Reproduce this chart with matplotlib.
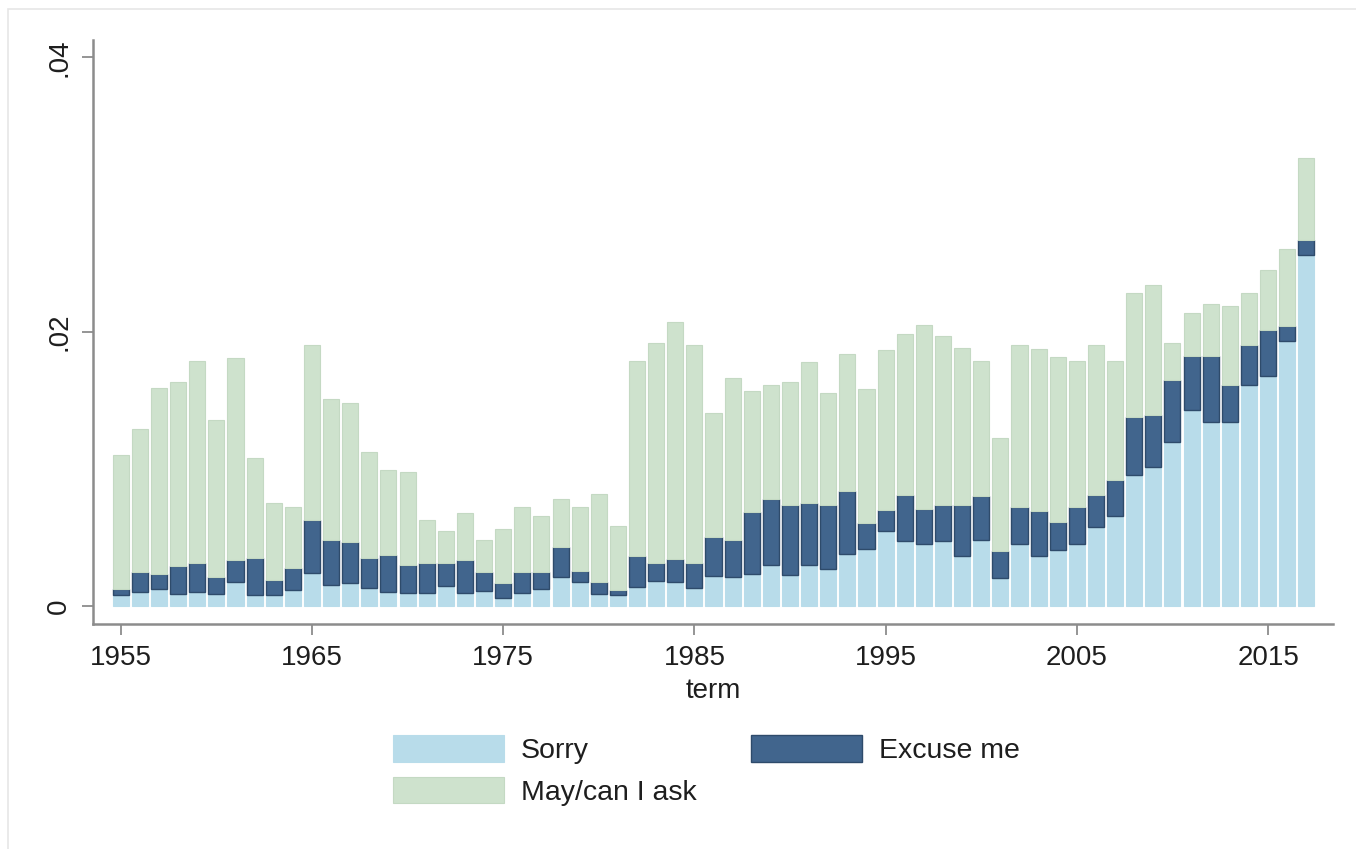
import numpy as np
import matplotlib
matplotlib.use("Agg")
import matplotlib.pyplot as plt
from matplotlib.patches import Rectangle

plt.rcParams['font.family'] = ['Liberation Sans', 'DejaVu Sans']

# Share of utterances per term, in thousandths
years = list(range(1955, 2018))

sorry = [0.80, 1.04, 1.21, 0.87, 1.04, 0.87, 1.77, 0.80, 0.80, 1.17,
         2.43, 1.53, 1.65, 1.29, 1.04, 0.92, 0.92, 1.48, 0.92, 1.09,
         0.56, 0.92, 1.21, 2.09, 1.72, 0.87, 0.80, 1.41, 1.84, 1.77,
         1.29, 2.18, 2.14, 2.31, 2.99, 2.26, 2.99, 2.69, 3.79, 4.15,
         5.46, 4.73, 4.56, 4.73, 3.64, 4.85, 2.01, 4.49, 3.64, 4.08,
         4.49, 5.78, 6.55, 9.54, 10.15, 11.97, 14.30, 13.40, 13.40, 16.10,
         16.80, 19.30, 25.60]

excuse_me = [0.41, 1.46, 1.10, 2.07, 2.07, 1.27, 1.58, 2.67, 1.09, 1.57,
             3.88, 3.28, 2.99, 2.18, 2.67, 2.07, 2.24, 1.68, 2.43, 1.41,
             1.09, 1.58, 1.29, 2.23, 0.83, 0.85, 0.37, 2.25, 1.27, 1.63,
             1.82, 2.82, 2.67, 4.56, 4.78, 5.09, 4.56, 4.71, 4.58, 1.87,
             1.53, 3.35, 2.55, 2.67, 3.71, 3.15, 1.99, 2.76, 3.28, 2.06,
             2.74, 2.30, 2.62, 4.26, 3.81, 4.53, 3.90, 4.80, 2.70, 2.95,
             3.30, 1.10, 1.10]

may_ask = [9.79, 10.40, 13.59, 13.36, 14.79, 11.46, 14.75, 7.33, 5.61, 4.46,
           12.69, 10.29, 10.16, 7.73, 6.19, 6.81, 3.10, 2.30, 3.40, 2.35,
           3.95, 4.73, 4.05, 3.48, 4.68, 6.48, 4.68, 14.24, 16.09, 17.30,
           15.89, 9.10, 11.79, 8.78, 8.33, 8.95, 10.25, 8.10, 9.98, 9.78,
           11.71, 11.77, 13.39, 12.30, 11.45, 9.90, 8.26, 11.75, 11.84, 12.01,
           10.67, 10.92, 8.73, 9.00, 9.44, 2.70, 3.16, 3.80, 5.80, 3.75,
           4.40, 5.60, 6.00]

x = np.array(years)
s = np.array(sorry) / 1000
e = np.array(excuse_me) / 1000
a = np.array(may_ask) / 1000

c_sorry = '#b8dcea'
c_excuse = '#41658d'
c_ask = '#cee2cd'

fig = plt.figure(figsize=(13.56, 8.49), dpi=100)
ax = fig.add_axes([0.0686, 0.265, 0.9145, 0.688])

w = 0.84
ax.bar(x, s, width=w, color=c_sorry, edgecolor=c_sorry, linewidth=0.8, label='Sorry')
ax.bar(x, e, width=w, bottom=s, color=c_excuse, edgecolor='#2e4b6b', linewidth=1.0,
       label='Excuse me')
ax.bar(x, a, width=w, bottom=s + e, color=c_ask, edgecolor='#c4d9c3', linewidth=0.8,
       label='May/can I ask')

ax.set_xlim(1953.55, 2018.4)
ax.set_ylim(-0.00131, 0.04128)

ax.set_xticks([1955, 1965, 1975, 1985, 1995, 2005, 2015])
ax.set_yticks([0, 0.02, 0.04])
ax.set_yticklabels(['0', '.02', '.04'], rotation=90, va='center')

for side in ['top', 'right']:
    ax.spines[side].set_visible(False)
for side in ['left', 'bottom']:
    ax.spines[side].set_color('#8c8c8c')
    ax.spines[side].set_linewidth(1.8)

ax.tick_params(axis='both', colors='#8c8c8c', length=8, width=1.3,
               labelsize=20, labelcolor='#1e1e1e')
ax.tick_params(axis='x', pad=7)
ax.tick_params(axis='y', pad=7)
ax.set_xlabel('term', fontsize=20, color='#1e1e1e', labelpad=5)

# legend below the plot: Sorry / Excuse me on first row, May/can I ask on second
handles, labels = ax.get_legend_handles_labels()
order = [0, 2, 1]
leg = fig.legend([handles[i] for i in order], [labels[i] for i in order],
                 loc='upper center', bbox_to_anchor=(0.521, 0.134), ncol=2,
                 frameon=False, fontsize=20.5, handlelength=3.9, handleheight=1.05,
                 handletextpad=0.6, columnspacing=1.9, labelspacing=0.45,
                 borderpad=0, borderaxespad=0)
for t in leg.get_texts():
    t.set_color('#1e1e1e')

# thin frame around the graph region
fig.patches.append(Rectangle((8 / 1356, -0.1), 1.2, 1.1 - 9 / 849,
                             transform=fig.transFigure, fill=False,
                             edgecolor='#e6e6e6', linewidth=1.2))

fig.savefig('out.png', dpi=100, facecolor='white')
